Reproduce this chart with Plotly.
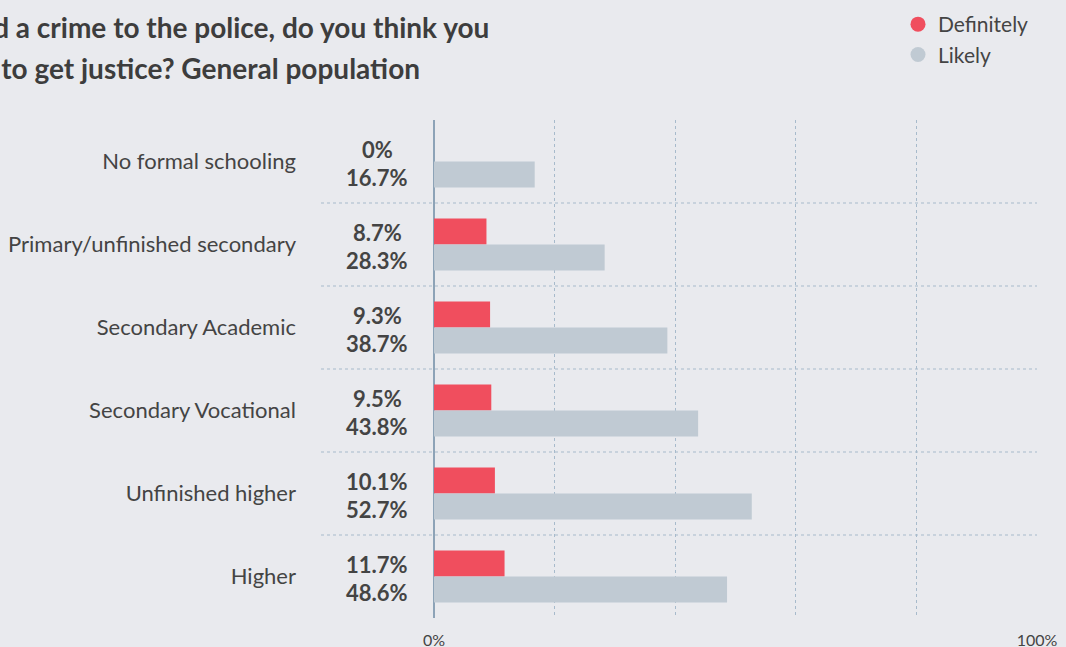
import plotly.graph_objects as go

categories = ["No formal schooling", "Primary/unfinished secondary", "Secondary Academic",
              "Secondary Vocational", "Unfinished higher", "Higher"]
definitely = [0, 8.7, 9.3, 9.5, 10.1, 11.7]
likely = [16.7, 28.3, 38.7, 43.8, 52.7, 48.6]
series_names = ["Definitely", "Likely"]
colors = ["#F04E5E", "#C0CAD3"]
title_lines = ["If you reported a crime to the police, do you think you",
               "would be able to get justice? General population"]
tick_vals = [0, 20, 40, 60, 80, 100]
tick_text = ["0%", "", "", "", "", "100%"]

FONT = "Lato"
TEXT = "#444444"
BG = "#E9EAEE"
GRID = "#A7BACB"

PLOT_L, PLOT_T, PLOT_W, PLOT_H = 434, 120, 603, 498

fig = go.Figure()
for name, vals, col in zip(series_names, [definitely, likely], colors):
    fig.add_trace(go.Bar(y=categories, x=vals, orientation="h", name=name,
                         marker=dict(color=col, line=dict(width=0)), showlegend=False,
                         hoverinfo="x+y"))
# legend entries (circle markers)
for name, col in zip(series_names, colors):
    fig.add_trace(go.Scatter(x=[None], y=[None], mode="markers", name=name,
                             marker=dict(color=col, size=15, symbol="circle")))

# value labels left of the axis
lab_x = (377 - PLOT_L) / PLOT_W
for cat, d, l in zip(categories, definitely, likely):
    fig.add_annotation(x=lab_x, y=cat, xref="paper", yref="y", text=f"<b>{d:g}%</b>",
                       xanchor="center", yanchor="middle",
                       showarrow=False, yshift=12, font=dict(size=22, color=TEXT, family=FONT))
    fig.add_annotation(x=lab_x, y=cat, xref="paper", yref="y", text=f"<b>{l:g}%</b>",
                       xanchor="center", yanchor="middle",
                       showarrow=False, yshift=-16, font=dict(size=22, color=TEXT, family=FONT))

# separators between categories
for i in range(len(categories) - 1):
    fig.add_shape(type="line", xref="paper", yref="y", x0=(321 - PLOT_L) / PLOT_W, x1=1.0,
                  y0=i + 0.5, y1=i + 0.5, line=dict(color=GRID, width=1, dash="dot"),
                  layer="below")

# title lines
fig.add_annotation(xref="paper", yref="paper", x=(491 - PLOT_L) / PLOT_W,
                   y=1 + (PLOT_T - 27) / PLOT_H,
                   xanchor="right", yanchor="middle", showarrow=False,
                   text=f"<b>{title_lines[0]}</b>", font=dict(size=28, color="#3D3D3D", family=FONT))
fig.add_annotation(xref="paper", yref="paper", x=(422 - PLOT_L) / PLOT_W,
                   y=1 + (PLOT_T - 68) / PLOT_H,
                   xanchor="right", yanchor="middle", showarrow=False,
                   text=f"<b>{title_lines[1]}</b>", font=dict(size=28, color="#3D3D3D", family=FONT))

fig.update_layout(
    width=1066, height=647,
    margin=dict(l=PLOT_L, r=1066 - PLOT_L - PLOT_W, t=PLOT_T, b=647 - PLOT_T - PLOT_H,
                autoexpand=False),
    paper_bgcolor=BG, plot_bgcolor=BG,
    barmode="group", bargap=0.373, bargroupgap=0,
    font=dict(family=FONT, color=TEXT, size=20),
    legend=dict(x=(898 - PLOT_L) / PLOT_W, xanchor="left", y=1 + (PLOT_T - 4) / PLOT_H,
                yanchor="top",
                font=dict(size=21, color=TEXT, family=FONT), bgcolor="rgba(0,0,0,0)",
                tracegroupgap=0, itemclick=False),
    xaxis=dict(range=[0, 100], tickvals=tick_vals, ticktext=tick_text, showgrid=True,
               gridcolor=GRID, griddash="dot", gridwidth=1,
               zeroline=True, zerolinecolor="#8DA3B7", zerolinewidth=2,
               showline=False, ticks="", tickfont=dict(size=16, color=TEXT, family=FONT),
               ticklabelstandoff=11, fixedrange=True, automargin=False),
    yaxis=dict(autorange="reversed", showgrid=False, zeroline=False, showline=False,
               ticks="", tickfont=dict(size=22, color=TEXT, family=FONT),
               ticklabelstandoff=137, fixedrange=True, automargin=False),
)

fig.write_html("out.html", config={"displayModeBar": False},
               post_script="document.body.style.margin='0';document.body.style.background='%s';" % BG)
